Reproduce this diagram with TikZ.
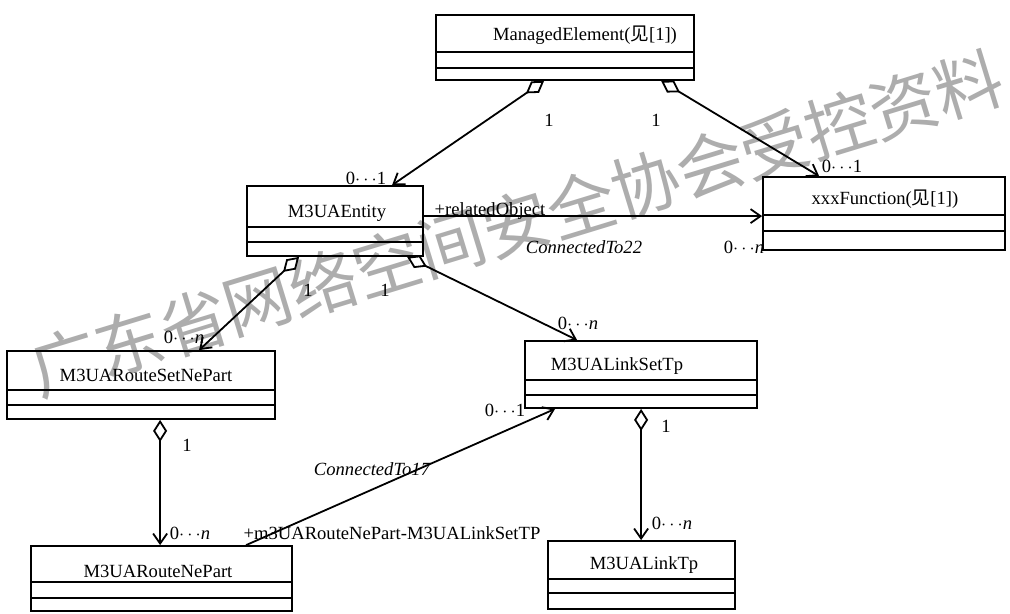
\documentclass[tikz,border=0pt]{standalone}
\usepackage{fontspec}
\setmainfont{Liberation Serif}
\newfontfamily\cjk{Noto Sans CJK SC}
\usetikzlibrary{arrows.meta,fit,calc}

\tikzset{
  classbox/.style={draw, line width=0.9pt, inner sep=0pt},
  divider/.style={line width=0.9pt},
  classname/.style={font=\fontsize{9.3}{11}\selectfont, inner sep=1pt},
  mult/.style={font=\fontsize{9.3}{11}\selectfont, inner sep=1pt},
  rolename/.style={font=\fontsize{9.3}{11}\selectfont, inner sep=1pt},
  assocname/.style={font=\fontsize{9.3}{11}\selectfont\itshape, inner sep=1pt},
  aggr/.style={line width=0.9pt, {Diamond[open,length=11pt,width=7pt]}-{Straight Barb[length=5pt,width=7pt]}},
  navig/.style={line width=0.9pt, -{Straight Barb[length=5pt,width=7pt]}},
  wmark/.style={font=\cjk\fontsize{34}{34}\selectfont, text=black!32, rotate=17, inner sep=0pt},
}

% class box: name, left, top, right, first divider, second divider, bottom
\newcommand{\umlclass}[7]{%
  \node[classbox, fit={(#2,#3) (#4,#7)}] (#1) {};
  \draw[divider] (#2,#5) -- (#4,#5) (#2,#6) -- (#4,#6);
}

\begin{document}
\begin{tikzpicture}[x=0.5pt,y=-0.5pt]
    \useasboundingbox (0,0) rectangle (1010,614);

    % watermark
    \foreach \ch [count=\i from 0] in {广,东,省,网,络,空,间,安,全,协,会,受,控,资,料}
        \node[wmark] (wm\i) at ({65+\i*64.5},{362-\i*19.8}) {\ch};

    \umlclass{me}{436}{15}{694}{52}{68}{80}
    \node[classname] (me-name) at (585,35) {ManagedElement({\cjk 见}[1])};

    \umlclass{entity}{247}{186}{423}{227}{242}{256}
    \node[classname] (entity-name) at (337,213) {M3UAEntity};

    \umlclass{xxx}{763}{177}{1005}{215}{231}{250}
    \node[classname] (xxx-name) at (885,199) {xxxFunction({\cjk 见}[1])};

    \umlclass{rsnp}{7}{351}{275}{390}{405}{419}
    \node[classname] (rsnp-name) at (146,375) {M3UARouteSetNePart};

    \umlclass{lst}{525}{341}{757}{380}{395}{408}
    \node[classname] (lst-name) at (617,366) {M3UALinkSetTp};

    \umlclass{rnp}{31}{546}{292}{582}{598}{611}
    \node[classname] (rnp-name) at (158,571) {M3UARouteNePart};

    \umlclass{lt}{548}{541}{735}{579}{593}{609}
    \node[classname] (lt-name) at (644,565) {M3UALinkTp};

    % aggregations and associations
    \draw[aggr] ($(me.south west)+(109,0)$) -- ($(entity.north west)+(146,0)$);
    \draw[aggr] ($(me.south west)+(226,0)$) -- ($(xxx.north west)+(57,0)$);
    \coordinate (relstart) at ($(entity.north east)+(0,31)$);
    \draw[navig] (relstart) -- (relstart -| xxx.west);
    \draw[aggr] ($(entity.south west)+(53,0)$) -- ($(rsnp.north west)+(193,0)$);
    \draw[aggr] ($(entity.south west)+(161,0)$) -- ($(lst.north west)+(53,0)$);
    \draw[aggr] ($(rsnp.south west)+(154,0)$) -- ($(rnp.north west)+(130,0)$);
    \draw[navig] ($(rnp.north west)+(216,0)$) -- ($(lst.south west)+(31,0)$);
    \draw[aggr] ($(lst.south west)+(117,0)$) -- ($(lt.north west)+(94,0)$);

    % multiplicities and role names
    \node[mult] (m1a) at (549,120) {1};
    \node[mult] (m1b) at (366,178) {0$\cdots$1};
    \node[mult] (m2a) at (656,120) {1};
    \node[mult] (m2b) at (842,166) {0$\cdots$1};
    \node[rolename] (r3) at (490,211) {+relatedObject};
    \node[assocname] (a3) at (584,247) {ConnectedTo22};
    \node[mult] (m3) at (744,247) {0$\cdots$\textit{n}};
    \node[mult] (m4a) at (308,290) {1};
    \node[mult] (m4b) at (184,337) {0$\cdots$\textit{n}};
    \node[mult] (m5a) at (385,290) {1};
    \node[mult] (m5b) at (578,323) {0$\cdots$\textit{n}};
    \node[mult] (m6a) at (187,445) {1};
    \node[mult] (m6b) at (190,533) {0$\cdots$\textit{n}};
    \node[rolename] (r7) at (392,533) {+m3UARouteNePart-M3UALinkSetTP};
    \node[assocname] (a7) at (372,469) {ConnectedTo17};
    \node[mult] (m7) at (505,410) {0$\cdots$1};
    \node[mult] (m8a) at (666,426) {1};
    \node[mult] (m8b) at (672,523) {0$\cdots$\textit{n}};
\end{tikzpicture}
\end{document}
